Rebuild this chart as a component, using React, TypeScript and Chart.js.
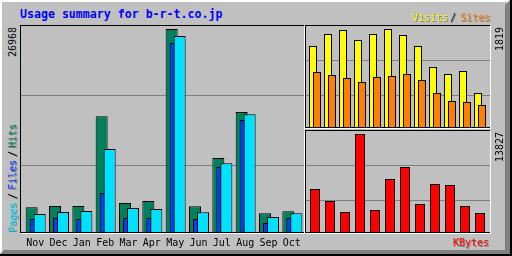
import React, { useEffect, useRef } from "react";
import { Chart, registerables } from "chart.js";

Chart.register(...registerables);

// ---------- data ----------
const MONTHS = ["Nov", "Dec", "Jan", "Feb", "Mar", "Apr", "May", "Jun", "Jul", "Aug", "Sep", "Oct"];
const HITS = [3398, 3569, 3569, 15428, 3966, 4230, 26968, 3530, 9915, 15996, 2604, 2869];
const FILES = [1851, 1983, 1851, 5288, 1983, 1983, 25118, 1851, 8725, 14939, 1322, 1983];
const PAGES = [2512, 2776, 2908, 11105, 3305, 3173, 26043, 2737, 9214, 15692, 2115, 2604];
const VISITS = [1507, 1727, 1801, 1617, 1727, 1819, 1709, 1507, 1121, 992, 1047, 643];
const SITES = [1029, 974, 919, 845, 937, 955, 992, 882, 643, 496, 478, 423];
const KBYTES = [6145, 4469, 2933, 13827, 3212, 7542, 9218, 4050, 6844, 6704, 3771, 2793];
const HITS_GRID = [8923, 18177];
const VISITS_GRID = [597, 1240];
const KBYTES_GRID = [4539, 9428];
const TITLE = "Usage summary for b-r-t.co.jp";

// ---------- style ----------
const MONO = "'DejaVu Sans Mono', monospace";
const BG = "#C0C0C0";
const DKGREY = "#808080";
const HIT_COLOR = "#00805C";
const FILE_COLOR = "#0040FF";
const PAGE_COLOR = "#00E0FF";
const VISIT_COLOR = "#FFFF00";
const SITE_COLOR = "#FF8000";
const KBYTE_COLOR = "#FF0000";

function barSet(label: string, values: number[], color: string, thickness: number, offset: number, order: number) {
  return {
    label,
    data: values.map((v, i) => ({ x: i + offset, y: v })),
    backgroundColor: color,
    borderColor: "#000000",
    borderWidth: 1,
    borderSkipped: false,
    barThickness: thickness,
    grouped: false,
    inflateAmount: 0,
    order,
  };
}

function options(xMin: number, xMax: number, yMax: number, grid: number[], xAxis: any) {
  return {
    animation: false,
    responsive: false,
    maintainAspectRatio: false,
    events: [],
    layout: { padding: 0 },
    plugins: { legend: { display: false }, tooltip: { enabled: false }, title: { display: false } },
    scales: {
      x: { type: "linear", min: xMin, max: xMax, offset: false, ...xAxis },
      y: {
        type: "linear",
        min: 0,
        max: yMax,
        grid: { color: DKGREY, lineWidth: 1, drawTicks: false },
        border: { display: false },
        ticks: { display: false },
        afterBuildTicks: (s: any) => {
          s.ticks = grid.map((value) => ({ value }));
        },
      },
    },
  } as any;
}

const Box = ({ x, y, w, h, c }: { x: number; y: number; w: number; h: number; c: string }) => (
  <div style={{ position: "absolute", left: x, top: y, width: w, height: h, background: c }} />
);

const upStyle = (x: number, y: number): React.CSSProperties => ({
  position: "absolute",
  left: x,
  top: y,
  transformOrigin: "0 0",
  transform: "rotate(-90deg)",
  whiteSpace: "nowrap",
  font: `10px/10px ${MONO}`,
});

export default function App() {
  const leftRef = useRef<HTMLCanvasElement>(null);
  const trRef = useRef<HTMLCanvasElement>(null);
  const brRef = useRef<HTMLCanvasElement>(null);

  useEffect(() => {
    const charts: Chart[] = [];
    // main panel: hits / files / pages
    {
      const u = 70 / 3;
      const xMin = -10.67 / u;
      const xMax = xMin + 283 / u;
      const plotH = 207;
      const yMax = (Math.max(...HITS) * plotH) / 204;
      charts.push(
        new Chart(leftRef.current as HTMLCanvasElement, {
          type: "bar",
          data: {
            datasets: [
              barSet("Pages", PAGES, PAGE_COLOR, 12, 8 / u, 1),
              barSet("Files", FILES, FILE_COLOR, 5, 0.5 / u, 2),
              barSet("Hits", HITS, HIT_COLOR, 12, 0, 3),
            ] as any,
          },
          options: options(xMin, xMax, yMax, HITS_GRID, {
            display: true,
            position: "bottom",
            grid: { display: false, drawTicks: false },
            border: { display: false },
            ticks: {
              autoSkip: false,
              maxRotation: 0,
              minRotation: 0,
              padding: 4,
              color: "#000000",
              font: { family: MONO, size: 10 },
              callback: (_v: any, i: number) => MONTHS[i],
            },
            afterBuildTicks: (s: any) => {
              s.ticks = MONTHS.map((_m, i) => ({ value: i + 3.5 / u }));
            },
            afterFit: (s: any) => {
              s.height = 22;
              s.paddingLeft = 0;
              s.paddingRight = 0;
            },
          }),
        })
      );
    }
    // visits / sites
    {
      const u = 15;
      const xMin = -7 / u;
      const xMax = xMin + 184 / u;
      const yMax = (Math.max(...VISITS) * 102) / 99;
      charts.push(
        new Chart(trRef.current as HTMLCanvasElement, {
          type: "bar",
          data: {
            datasets: [
              barSet("Sites", SITES, SITE_COLOR, 8, 4 / u, 1),
              barSet("Visits", VISITS, VISIT_COLOR, 8, 0, 2),
            ] as any,
          },
          options: options(xMin, xMax, yMax, VISITS_GRID, { display: false }),
        })
      );
    }
    // kbytes
    {
      const u = 15;
      const xMin = -9 / u;
      const xMax = xMin + 184 / u;
      const yMax = (Math.max(...KBYTES) * 102) / 99;
      charts.push(
        new Chart(brRef.current as HTMLCanvasElement, {
          type: "bar",
          data: { datasets: [barSet("KBytes", KBYTES, KBYTE_COLOR, 10, 0, 1)] as any },
          options: options(xMin, xMax, yMax, KBYTES_GRID, { display: false }),
        })
      );
    }
    return () => charts.forEach((c) => c.destroy());
  }, []);

  const shadowH = `1px 1px 0 ${DKGREY}`;
  const shadowUp = `-1px 1px 0 ${DKGREY}`;

  return (
    <div
      style={{
        position: "fixed",
        left: 0,
        top: 0,
        width: 512,
        height: 256,
        background: BG,
        overflow: "hidden",
      }}
    >
      {/* outer frame */}
      <Box x={0} y={0} w={511} h={2} c="#FFFFFF" />
      <Box x={0} y={0} w={2} h={255} c="#FFFFFF" />
      <div
        style={{
          position: "absolute",
          left: 0,
          top: 0,
          width: 512,
          height: 256,
          background: DKGREY,
          clipPath: "polygon(510px 0px, 510px 254px, 0px 254px, 4px 250px, 505px 250px, 505px 5px)",
        }}
      />
      <Box x={510} y={0} w={2} h={256} c="#000000" />
      <Box x={0} y={254} w={512} h={2} c="#000000" />

      {/* charts */}
      <canvas ref={leftRef} width={283} height={229} style={{ position: "absolute", left: 21, top: 26, width: 283, height: 229 }} />
      <canvas ref={trRef} width={184} height={102} style={{ position: "absolute", left: 306, top: 26, width: 184, height: 102 }} />
      <canvas ref={brRef} width={184} height={102} style={{ position: "absolute", left: 306, top: 131, width: 184, height: 102 }} />

      {/* panel borders: main */}
      <Box x={20} y={25} w={284} h={1} c="#000000" />
      <Box x={20} y={25} w={1} h={208} c="#000000" />
      <Box x={20} y={232} w={284} h={1} c="#000000" />
      <Box x={21} y={233} w={284} h={1} c="#FFFFFF" />
      <Box x={304} y={26} w={1} h={208} c="#FFFFFF" />
      {/* panel borders: visits */}
      <Box x={305} y={25} w={185} h={1} c="#000000" />
      <Box x={305} y={25} w={1} h={103} c="#000000" />
      <Box x={305} y={127} w={185} h={1} c="#000000" />
      <Box x={306} y={128} w={185} h={1} c="#FFFFFF" />
      <Box x={490} y={26} w={1} h={103} c="#FFFFFF" />
      {/* panel borders: kbytes */}
      <Box x={305} y={130} w={185} h={1} c="#000000" />
      <Box x={305} y={130} w={1} h={103} c="#000000" />
      <Box x={305} y={232} w={185} h={1} c="#000000" />
      <Box x={306} y={233} w={185} h={1} c="#FFFFFF" />
      <Box x={490} y={131} w={1} h={103} c="#FFFFFF" />

      {/* title */}
      <div
        style={{
          position: "absolute",
          left: 20,
          top: 9,
          whiteSpace: "nowrap",
          font: `bold 11.6px/11.6px ${MONO}`,
          color: "#0000FF",
        }}
      >
        {TITLE}
      </div>

      {/* Visits / Sites legend */}
      <div
        style={{
          position: "absolute",
          left: 412,
          top: 13,
          whiteSpace: "nowrap",
          font: `10px/10px ${MONO}`,
          textShadow: shadowH,
        }}
      >
        <span style={{ color: VISIT_COLOR }}>Visits</span>
        <span style={{ color: "#000000", margin: "0 4px 0 2px" }}>/</span>
        <span style={{ color: SITE_COLOR }}>Sites</span>
      </div>

      {/* KBytes legend */}
      <div
        style={{
          position: "absolute",
          left: 453,
          top: 238,
          whiteSpace: "nowrap",
          font: `10px/10px ${MONO}`,
          color: KBYTE_COLOR,
          textShadow: shadowH,
        }}
      >
        KBytes
      </div>

      {/* Pages / Files / Hits legend */}
      <div style={{ ...upStyle(8, 232), textShadow: shadowUp }}>
        <span style={{ color: PAGE_COLOR }}>Pages</span>
        <span style={{ color: "#000000", margin: "0 3px" }}>/</span>
        <span style={{ color: FILE_COLOR }}>Files</span>
        <span style={{ color: "#000000", margin: "0 3px" }}>/</span>
        <span style={{ color: HIT_COLOR }}>Hits</span>
      </div>

      {/* max value labels */}
      <div style={{ ...upStyle(8, 57), color: "#000000" }}>{String(Math.max(...HITS))}</div>
      <div style={{ ...upStyle(495, 51), color: "#000000" }}>{String(Math.max(...VISITS))}</div>
      <div style={{ ...upStyle(495, 162), color: "#000000" }}>{String(Math.max(...KBYTES))}</div>
    </div>
  );
}
